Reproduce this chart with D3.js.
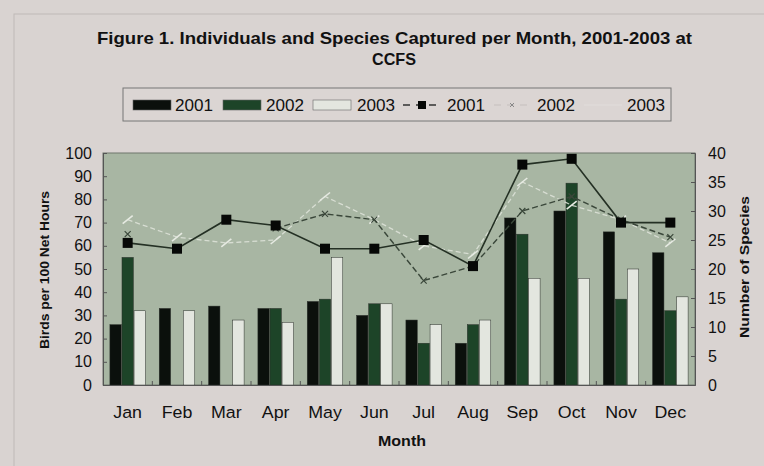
<!DOCTYPE html>
<html><head><meta charset="utf-8">
<script src="https://cdn.jsdelivr.net/npm/d3@7/dist/d3.min.js"></script>
<style>
html,body{margin:0;padding:0;background:#d9d3d1;}
svg{display:block;font-family:Arial,"Liberation Sans",sans-serif;}
</style></head>
<body>
<svg id="c" width="764" height="466"></svg>
<script>
const months = ["Jan","Feb","Mar","Apr","May","Jun","Jul","Aug","Sep","Oct","Nov","Dec"];
const years = ["2001","2002","2003"];
const birds2001 = [26,33,34,33,36,30,28,18,72,75,66,57];
const birds2002 = [55,0,0,33,37,35,18,26,65,87,37,32];
const birds2003 = [32,32,28,27,55,35,26,28,46,46,50,38];
const species2001 = [24.5,23.5,28.5,27.5,23.5,23.5,25,20.5,38,39,28,28];
const species2002 = [26,null,null,27,29.5,28.5,18,20.5,30,32.5,28.5,25.5];
const species2003 = [28.5,25.5,24.5,25,32.5,28.5,24,22.5,35,31,28.5,24.5];
const leftTicks = [0,10,20,30,40,50,60,70,80,90,100];
const rightTicks = [0,5,10,15,20,25,30,35,40];

const svg = d3.select("#c");
const L = 103, R = 695, T = 153, B = 385;

// faint outer frame
svg.append("rect").attr("x",14).attr("y",14).attr("width",800).attr("height",500)
  .attr("fill","none").attr("stroke","#c0bab8").attr("stroke-width",1);

// title
svg.append("text").attr("x",97).attr("y",44)
  .attr("font-weight","bold").attr("font-size",16.5).attr("fill","#111")
  .attr("textLength",595).attr("lengthAdjust","spacingAndGlyphs")
  .text("Figure 1. Individuals and Species Captured per Month, 2001-2003 at");
svg.append("text").attr("x",394).attr("y",65).attr("text-anchor","middle")
  .attr("font-weight","bold").attr("font-size",16.5).attr("fill","#111")
  .attr("textLength",44).attr("lengthAdjust","spacingAndGlyphs").text("CCFS");

const x = d3.scaleBand().domain(months).range([L,R]).paddingInner(0.28).paddingOuter(0.14);
const xs = d3.scaleBand().domain(years).range([0,x.bandwidth()]).paddingInner(0.06);
const xc = m => x(m) + x.bandwidth()/2;
const yL = d3.scaleLinear().domain([0,100]).range([B,T]);
const yR = d3.scaleLinear().domain([0,40]).range([B,T]);

// plot area
svg.append("rect").attr("x",L).attr("y",T).attr("width",R-L).attr("height",B-T)
  .attr("fill","#a8b6a3").attr("stroke","#6f776d").attr("stroke-width",1);

// bars
const barSeries = [
  {year:"2001", vals:birds2001, fill:"#0b100c"},
  {year:"2002", vals:birds2002, fill:"#1d4428"},
  {year:"2003", vals:birds2003, fill:"#e3e6df"}
];
barSeries.forEach(s=>{
  svg.append("g").selectAll("rect").data(months.map((m,i)=>({m,v:s.vals[i]})).filter(d=>d.v>0))
    .join("rect")
    .attr("x",d=>x(d.m)+xs(s.year))
    .attr("y",d=>yL(d.v))
    .attr("width",xs.bandwidth())
    .attr("height",d=>B-yL(d.v))
    .attr("fill",s.fill)
    .attr("stroke","#2a2f2a").attr("stroke-width",0.5);
});

// axes
const axL = svg.append("g").attr("transform",`translate(${L},0)`)
  .call(d3.axisLeft(yL).tickValues(leftTicks).tickSize(-4).tickPadding(11));
const axR = svg.append("g").attr("transform",`translate(${R},0)`)
  .call(d3.axisRight(yR).tickValues(rightTicks).tickSize(-4).tickPadding(13));
const xEdges = months.map(m=>x(m)-x.step()*x.paddingInner()/2).slice(1);
const axB = svg.append("g").attr("transform",`translate(0,${B})`)
  .call(d3.axisBottom(x).tickSize(0).tickPadding(21));
svg.append("g").selectAll("line").data(xEdges).join("line")
  .attr("x1",d=>d).attr("x2",d=>d).attr("y1",B).attr("y2",B-4)
  .attr("stroke","#555").attr("stroke-width",1);
[axL,axR,axB].forEach(a=>{
  a.select(".domain").attr("stroke","#555");
  a.selectAll(".tick line").attr("stroke","#555");
  a.selectAll("text").attr("font-size",16).attr("fill","#111").attr("font-family","Arial,'Liberation Sans',sans-serif");
});
axB.selectAll("text").attr("font-size",16.5).attr("transform","scale(1.08,1)");

// axis titles
svg.append("text").attr("transform","translate(49,270) rotate(-90)").attr("text-anchor","middle")
  .attr("font-weight","bold").attr("font-size",13.5).attr("fill","#111")
  .attr("textLength",158).attr("lengthAdjust","spacingAndGlyphs").text("Birds per 100 Net Hours");
svg.append("text").attr("transform","translate(749,267) rotate(-90)").attr("text-anchor","middle")
  .attr("font-weight","bold").attr("font-size",13.5).attr("fill","#111")
  .attr("textLength",142).attr("lengthAdjust","spacingAndGlyphs").text("Number of Species");
svg.append("text").attr("x",402).attr("y",446).attr("text-anchor","middle")
  .attr("font-weight","bold").attr("font-size",14).attr("fill","#111")
  .attr("textLength",48).attr("lengthAdjust","spacingAndGlyphs").text("Month");

// lines
const mkLine = d3.line().defined(d=>d.v!=null).x(d=>xc(d.m)).y(d=>yR(d.v));
const pts = arr => months.map((m,i)=>({m,v:arr[i]}));

// 2003 (light)
svg.append("path").datum(pts(species2003)).attr("d",mkLine).attr("fill","none")
  .attr("stroke","#dfe4da").attr("stroke-width",1.3).attr("stroke-dasharray","5,3").attr("opacity",0.85);
svg.append("g").selectAll("line").data(pts(species2003)).join("line")
  .attr("x1",d=>xc(d.m)-5).attr("x2",d=>xc(d.m)+5)
  .attr("y1",d=>yR(d.v)+4).attr("y2",d=>yR(d.v)-4)
  .attr("stroke","#e6eae2").attr("stroke-width",1.6);

// 2002 (dark dashed with x)
svg.append("path").datum(pts(species2002)).attr("d",mkLine).attr("fill","none")
  .attr("stroke","#3a473a").attr("stroke-width",1.4).attr("stroke-dasharray","6,3");
const p2 = pts(species2002).filter(d=>d.v!=null);
svg.append("g").selectAll("path").data(p2).join("path")
  .attr("d",d=>{const cx=xc(d.m), cy=yR(d.v), r=3;return `M${cx-r},${cy-r}L${cx+r},${cy+r}M${cx-r},${cy+r}L${cx+r},${cy-r}`;})
  .attr("stroke","#3a473a").attr("stroke-width",1.2);

// 2001 (solid with squares)
svg.append("path").datum(pts(species2001)).attr("d",mkLine).attr("fill","none")
  .attr("stroke","#243024").attr("stroke-width",1.6);
svg.append("g").selectAll("rect").data(pts(species2001)).join("rect")
  .attr("x",d=>xc(d.m)-5).attr("y",d=>yR(d.v)-5).attr("width",10).attr("height",10)
  .attr("fill","#060806");

// legend
const lg = svg.append("g");
lg.append("rect").attr("x",123).attr("y",88).attr("width",548).attr("height",33)
  .attr("fill","#dbd5d3").attr("stroke","#777").attr("stroke-width",1);
const ly = 105;
const legItems = [
  {type:"bar", fill:"#0b100c", sx:133, tx:175, label:years[0]},
  {type:"bar", fill:"#1d4428", sx:223, tx:266, label:years[1]},
  {type:"bar", fill:"#e3e6df", sx:313, tx:357, label:years[2]},
  {type:"l1", sx:403, tx:447, label:years[0]},
  {type:"l2", sx:494, tx:537, label:years[1]},
  {type:"l3", sx:584, tx:627, label:years[2]}
];
legItems.forEach(it=>{
  if(it.type==="bar"){
    lg.append("rect").attr("x",it.sx).attr("y",ly-5).attr("width",38).attr("height",10)
      .attr("fill",it.fill).attr("stroke","#666").attr("stroke-width",0.6);
  } else if(it.type==="l1"){
    lg.append("line").attr("x1",it.sx).attr("x2",it.sx+39).attr("y1",ly).attr("y2",ly)
      .attr("stroke","#333").attr("stroke-width",1.4).attr("stroke-dasharray","7,6");
    lg.append("rect").attr("x",it.sx+15).attr("y",ly-4).attr("width",8).attr("height",8).attr("fill","#060806");
  } else if(it.type==="l2"){
    lg.append("line").attr("x1",it.sx).attr("x2",it.sx+38).attr("y1",ly).attr("y2",ly)
      .attr("stroke","#c6c0be").attr("stroke-width",1.2).attr("stroke-dasharray","7,6");
    lg.append("path").attr("d",`M${it.sx+16},${ly-2}L${it.sx+20},${ly+2}M${it.sx+16},${ly+2}L${it.sx+20},${ly-2}`)
      .attr("stroke","#888").attr("stroke-width",1);
  } else {
    lg.append("line").attr("x1",it.sx).attr("x2",it.sx+38).attr("y1",ly).attr("y2",ly)
      .attr("stroke","#e2dedc").attr("stroke-width",1.2);
  }
  lg.append("text").attr("x",it.tx).attr("y",ly+6).attr("font-size",17).attr("fill","#111")
    .attr("textLength",38).attr("lengthAdjust","spacingAndGlyphs").text(it.label);
});
</script>
</body></html>
